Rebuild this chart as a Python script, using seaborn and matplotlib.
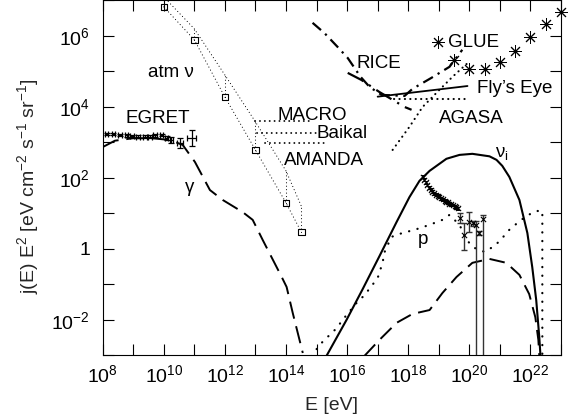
import numpy as np
import pandas as pd
import matplotlib
matplotlib.use("Agg")
import matplotlib.pyplot as plt
import matplotlib.ticker as mticker
import seaborn as sns

# ---------------- data (log10 E [eV], log10 j E^2) ----------------
gamma_logE = [8.0, 8.4, 9.0, 9.6, 10.2, 10.62, 11.02, 11.51, 11.93, 12.58, 12.91, 13.24, 13.86, 14.02, 14.22, 14.55]
gamma_logJ = [2.87, 3.05, 3.12, 3.12, 3.07, 2.93, 2.45, 1.66, 1.38, 1.04, 0.82, 0.25, -0.79, -1.07, -1.80, -2.93]

egret_logE = [8.13, 8.35, 8.57, 8.78, 8.95, 9.16, 9.38, 9.55, 9.71, 9.93, 10.09, 10.25, 10.53, 10.91]
egret_logJ = [3.24, 3.24, 3.21, 3.20, 3.18, 3.16, 3.16, 3.16, 3.20, 3.21, 3.12, 3.07, 2.98, 3.12]
egret_dJ = [0.04, 0.04, 0.04, 0.04, 0.04, 0.04, 0.04, 0.04, 0.04, 0.04, 0.06, 0.08, 0.14, 0.23]
egret_dE = [0.06, 0.06, 0.06, 0.06, 0.06, 0.06, 0.06, 0.06, 0.06, 0.06, 0.06, 0.06, 0.11, 0.16]

atm_logE = [10.0, 11.0, 12.0, 13.0, 14.0, 14.5]
atm_low_logJ = [6.82, 5.89, 4.28, 2.79, 1.30, 0.48]
atm_high_logJ = [7.10, 6.20, 4.90, 3.58, 2.20, 1.21]

macro_logE = [13.0, 14.84]
macro_logJ = [3.61, 3.61]
baikal_logE = [13.04, 15.0]
baikal_logJ = [3.26, 3.26]
amanda_logE = [13.3, 15.33]
amanda_logJ = [2.98, 2.98]

rice_logE = [14.87, 15.26, 15.69, 16.02, 16.44, 16.74, 17.13, 17.88, 18.14, 18.76, 19.35, 19.77]
rice_logJ = [6.37, 6.08, 5.69, 5.38, 4.85, 4.56, 4.34, 4.31, 4.51, 4.82, 5.13, 5.61]

lim2_logE = [16.02, 16.47, 17.06, 17.49, 17.88, 18.11]
lim2_logJ = [4.96, 4.76, 4.42, 4.20, 4.00, 3.92]

fly_logE = [17.0, 19.94]
fly_logJ = [4.29, 4.59]

agasa_logE = [17.49, 18.04, 18.47, 19.02, 19.45, 19.91]
agasa_logJ = [2.79, 3.44, 4.00, 4.48, 4.85, 5.21]
agasa_flat_logE = [17.55, 19.90]
agasa_flat_logJ = [4.23, 4.23]

glue_logE = [19.5, 20.0, 20.5, 21.0, 21.5, 22.0, 22.5, 23.0]
glue_logJ = [5.32, 5.06, 5.06, 5.28, 5.58, 5.96, 6.34, 6.68]
glue_key_logE = [18.97]
glue_key_logJ = [5.84]

nu_logE = [15.32, 15.98, 16.51, 17.06, 17.62, 18.04, 18.37, 18.70, 19.25, 19.68, 20.10, 20.66,
           20.89, 21.08, 21.31, 21.64, 21.90, 22.06, 22.19, 22.29, 22.33]
nu_logJ = [-3.02, -2.0, -1.13, -0.20, 0.76, 1.46, 1.92, 2.20, 2.54, 2.65, 2.68, 2.61,
           2.51, 2.34, 2.03, 1.38, 0.45, -0.51, -1.44, -2.48, -3.02]

p_logE = [14.84, 15.10, 15.36, 15.66, 15.85, 16.31, 16.57, 17.00, 17.16, 17.23, 17.45, 17.81, 18.21,
          18.70, 19.12, 19.35, 19.68, 19.91, 20.17, 20.49, 20.82, 21.05, 21.31, 21.57, 21.87, 22.19,
          22.39, 22.39]
p_logJ = [-3.02, -2.70, -2.48, -2.23, -2.0, -1.52, -1.30, -0.82, -0.39, -0.08, 0.34, 0.45, 0.54,
          0.68, 0.82, 0.96, 0.68, 0.25, 0.03, -0.08, 0.08, 0.28, 0.54, 0.73, 0.93, 1.07,
          1.07, -3.05]

low_logE = [16.57, 17.06, 17.62, 18.14, 18.70, 19.12, 19.58, 20.10, 20.66, 21.21, 21.64, 21.96, 22.16, 22.26, 22.29]
low_logJ = [-3.01, -2.56, -2.08, -1.83, -1.72, -1.24, -0.79, -0.39, -0.28, -0.39, -0.73, -1.27, -1.92, -2.56, -3.01]

cr_logE = [18.47, 18.52, 18.57, 18.63, 18.68, 18.74, 18.79, 18.85, 18.91, 18.97, 19.02,
           19.08, 19.13, 19.19, 19.24, 19.30, 19.35, 19.41, 19.46, 19.52, 19.57, 19.62]
cr_logJ = [2.03, 1.95, 1.88, 1.80, 1.73, 1.67, 1.61, 1.57, 1.53, 1.50, 1.47,
           1.43, 1.40, 1.36, 1.33, 1.31, 1.28, 1.26, 1.24, 1.20, 1.17, 1.15]

crb_logE = [19.71, 19.84, 20.00, 20.11, 20.22, 20.33, 20.44]
crb_logJ = [0.86, 0.39, 0.77, 0.72, 0.68, 0.44, 0.84]
crb_hi = [1.00, 0.72, 1.05, 0.80, 0.80, 0.50, 0.96]
crb_lo = [0.72, -0.03, 0.49, 0.64, -3.3, 0.38, -3.3]

# ---------------- style ----------------
sns.set_theme(style="ticks")
plt.rcParams['font.family'] = ['Liberation Sans', 'DejaVu Sans']
plt.rcParams['mathtext.fontset'] = 'custom'
plt.rcParams['mathtext.rm'] = 'Liberation Sans'
plt.rcParams['mathtext.it'] = 'Liberation Sans:italic'
plt.rcParams['mathtext.bf'] = 'Liberation Sans:bold'
plt.rcParams['axes.unicode_minus'] = False

FS = 13.5
TFS = 14
fig = plt.figure(figsize=(5.73, 4.19), dpi=100)
ax = fig.add_axes([0.1792, 0.1516, 0.7998, 0.8473])
ax.set_xscale('log')
ax.set_yscale('log')


def P(v):
    return 10 ** np.asarray(v, dtype=float)


def curve(logE, logJ, lw=1.4, ls='-', cap='butt', **kw):
    df = pd.DataFrame({'E': P(logE), 'J': P(logJ)})
    sns.lineplot(data=df, x='E', y='J', ax=ax, sort=False, estimator=None,
                 color='black', linewidth=lw, linestyle=ls, legend=False,
                 dash_capstyle=cap, **kw)


DOT = 'round'
# gamma (EGRET extrapolation)
curve(gamma_logE, gamma_logJ, lw=1.4, ls=(0, (9, 4)))
# atm nu band
curve(atm_logE, atm_low_logJ, lw=0.8, ls=(0, (0.1, 3)), cap=DOT)
curve(atm_logE, atm_high_logJ, lw=0.8, ls=(0, (0.1, 3)), cap=DOT)
ax.vlines(P(atm_logE), P(atm_low_logJ), P(atm_high_logJ), colors='black',
          linewidth=0.8, linestyles=(0, (0.1, 3)), capstyle='round')
sns.scatterplot(x=P(atm_logE), y=P(atm_low_logJ), ax=ax, marker='s', s=22,
                facecolor='none', edgecolor='black', linewidth=0.8, zorder=5)
# underground limits
for lE, lJ in [(macro_logE, macro_logJ), (baikal_logE, baikal_logJ), (amanda_logE, amanda_logJ)]:
    curve(lE, lJ, lw=1.3, ls=(0, (0.1, 2.6)), cap=DOT)
# RICE etc.
curve(rice_logE, rice_logJ, lw=1.6, ls=(0, (5, 2.5, 1, 2.5)))
curve(lim2_logE, lim2_logJ, lw=1.6, ls=(0, (8, 3, 1, 3)))
curve(fly_logE, fly_logJ, lw=1.3)
curve(agasa_logE, agasa_logJ, lw=1.5, ls=(0, (0.1, 2.5)), cap=DOT)
curve(agasa_flat_logE, agasa_flat_logJ, lw=1.5, ls=(0, (0.1, 2.5)), cap=DOT)
# GLUE
sns.scatterplot(x=P(glue_logE), y=P(glue_logJ), ax=ax, marker=(8, 2, 0), s=75,
                color='black', linewidth=0.7, clip_on=False, zorder=6)
sns.scatterplot(x=P(glue_key_logE), y=P(glue_key_logJ), ax=ax, marker=(8, 2, 0), s=75,
                color='black', linewidth=0.7, zorder=6)
# model curves
curve(nu_logE, nu_logJ, lw=1.5)
curve(p_logE, p_logJ, lw=1.6, ls=(0, (0.1, 3.8)), cap=DOT)
curve(low_logE, low_logJ, lw=1.4, ls=(0, (8, 4)))

# EGRET data
eE, eJ = P(egret_logE), P(egret_logJ)
le, lj, dE, dJ = map(np.asarray, (egret_logE, egret_logJ, egret_dE, egret_dJ))
ax.errorbar(eE, eJ, xerr=[eE - P(le - dE), P(le + dE) - eE],
            yerr=[eJ - P(lj - dJ), P(lj + dJ) - eJ], fmt='none', ecolor='black',
            elinewidth=0.9, capsize=2, capthick=0.9, zorder=5)

# cosmic-ray data
cE, cJ = P(cr_logE), P(cr_logJ)
ax.errorbar(cE, cJ, yerr=[cJ - P(np.asarray(cr_logJ) - 0.04), P(np.asarray(cr_logJ) + 0.04) - cJ],
            fmt='none', ecolor='black', elinewidth=0.7, capsize=1.2, capthick=0.7, zorder=5)
sns.scatterplot(x=cE, y=cJ, ax=ax, marker='x', s=14, color='black', linewidth=0.8, zorder=6)
bE, bJ = P(crb_logE), P(crb_logJ)
ax.errorbar(bE, bJ, yerr=[bJ - P(crb_lo), P(crb_hi) - bJ], fmt='none', ecolor='#333333',
            elinewidth=1.0, capsize=2.5, capthick=1.0, zorder=5)
sns.scatterplot(x=bE, y=bJ, ax=ax, marker='x', s=14, color='black', linewidth=0.8, zorder=6)

# ---------------- axes ----------------
ax.set_xlim(1e8, 1e23)
ax.set_ylim(1e-3, 1e7)


def fmt(v, pos):
    e = int(round(np.log10(v)))
    if e % 2:
        return ''
    if e == 0:
        return '1'
    return r'$10^{%d}$' % e


for axis in (ax.xaxis, ax.yaxis):
    axis.set_major_locator(mticker.LogLocator(base=10, numticks=40))
    axis.set_minor_locator(mticker.NullLocator())
    axis.set_major_formatter(mticker.FuncFormatter(fmt))

ax.tick_params(which='both', direction='in', length=8, width=0.8, top=True, right=True,
               labelsize=TFS, colors='black')
ax.tick_params(axis='x', pad=6)
ax.tick_params(axis='y', pad=9)
for s in ax.spines.values():
    s.set_color('black')
    s.set_linewidth(0.8)

ax.set_xlabel('E [eV]', fontsize=TFS)
ax.xaxis.set_label_coords(0.5, -0.142)
ax.xaxis.label.set_va('center')
ax.set_ylabel(r'j(E) E$^2$ [eV cm$^{-2}$ s$^{-1}$ sr$^{-1}$]', fontsize=TFS)
ax.yaxis.set_label_coords(-0.163, 0.4775)
ax.yaxis.label.set_va('center')

labels = [
    ('atm ν', 0.0995, 0.7845, 'left'),
    ('EGRET', 0.0487, 0.6549, 'left'),
    ('γ', 0.1905, 0.4606, 'center'),
    ('MACRO', 0.3818, 0.6634, 'left'),
    ('Baikal', 0.4669, 0.6127, 'left'),
    ('AMANDA', 0.3962, 0.5366, 'left'),
    ('RICE', 0.5542, 0.8099, 'left'),
    ('GLUE', 0.7541, 0.8690, 'left'),
    ("Fly’s Eye", 0.8161, 0.7394, 'left'),
    ('AGASA', 0.7345, 0.6549, 'left'),
    (r'ν$_{\mathrm{i}}$', 0.8560, 0.5592, 'left'),
    ('p', 0.6886, 0.3141, 'left'),
]
for txt, fx, fy, ha in labels:
    ax.text(fx, fy, txt, transform=ax.transAxes, fontsize=FS, ha=ha, va='baseline', color='black')

fig.savefig('out.png', dpi=100)
